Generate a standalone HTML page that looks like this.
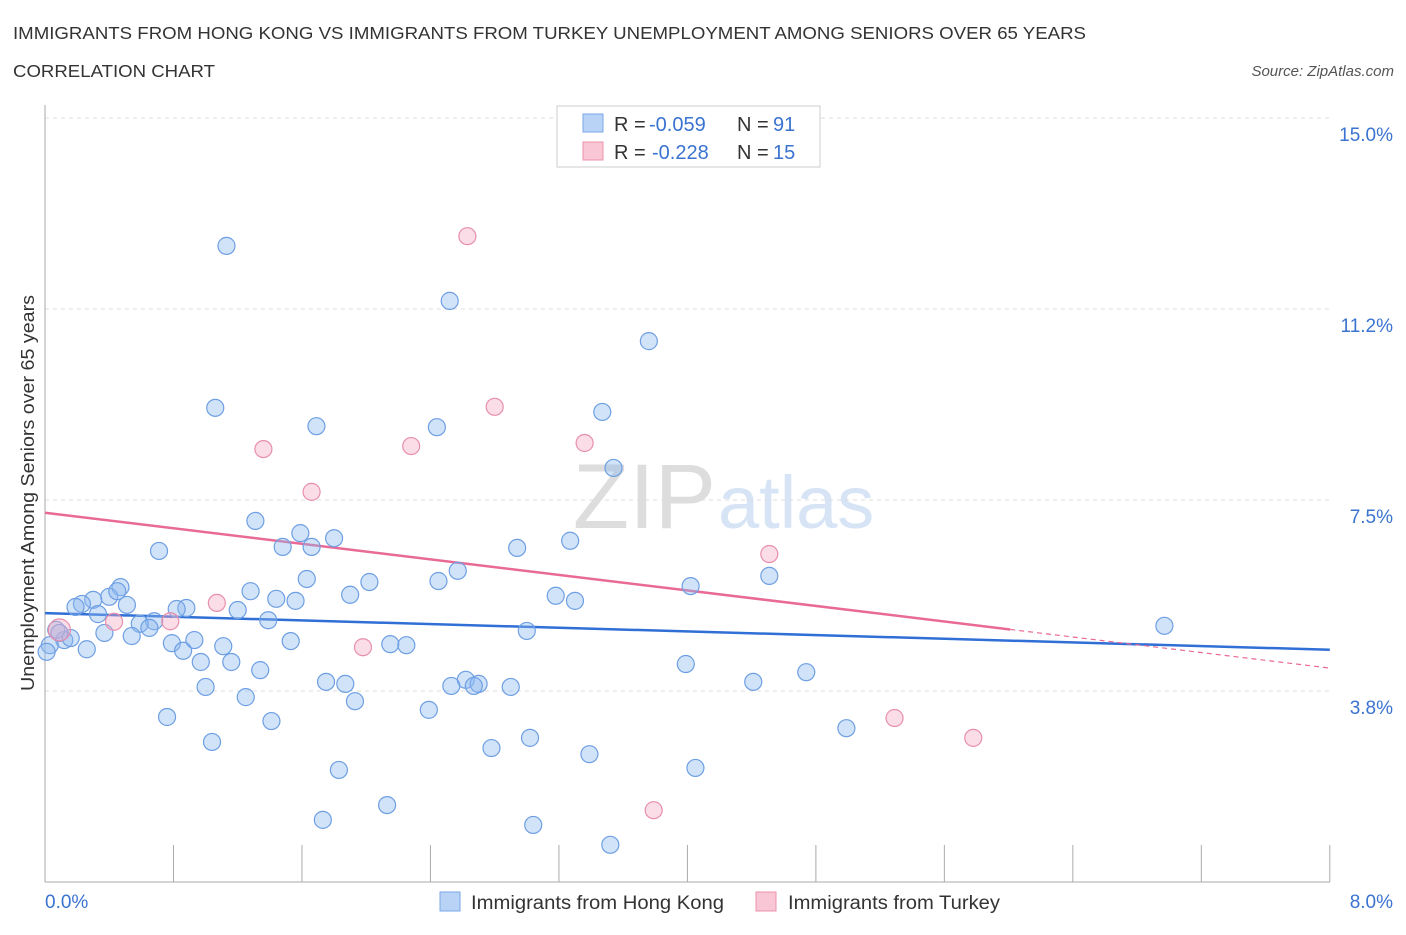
<!DOCTYPE html>
<html><head><meta charset="utf-8"><style>
body{margin:0;background:#fff;font-family:"Liberation Sans",sans-serif;}
svg text{font-family:"Liberation Sans",sans-serif;}
</style></head><body>
<svg id="chart" width="1406" height="930" xmlns="http://www.w3.org/2000/svg">
<text x="13" y="39" font-size="17.5" fill="#333" textLength="1073" lengthAdjust="spacingAndGlyphs">IMMIGRANTS FROM HONG KONG VS IMMIGRANTS FROM TURKEY UNEMPLOYMENT AMONG SENIORS OVER 65 YEARS</text>
<text x="13" y="77" font-size="17.5" fill="#333" textLength="202" lengthAdjust="spacingAndGlyphs">CORRELATION CHART</text>
<text x="1394" y="76" font-size="15" fill="#555" text-anchor="end" font-style="italic">Source: ZipAtlas.com</text>
<text x="716" y="528" font-size="92" fill="#ddd" text-anchor="end" font-family="Liberation Serif">ZIP</text>
<text x="718" y="528" font-size="74" fill="#d6e4f5">atlas</text>
<g id="grid"></g><g id="axes"></g><g id="lines"></g><g id="pts"></g>
<text transform="translate(34,493) rotate(-90)" font-size="18.5" fill="#333" text-anchor="middle" textLength="396" lengthAdjust="spacingAndGlyphs">Unemployment Among Seniors over 65 years</text>
<g>
<rect x="557" y="106" width="263" height="61" fill="#fff" stroke="#ccc"/>
<rect x="583" y="114" width="20" height="18" fill="#b8d3f5" stroke="#7aa7e6"/>
<rect x="583" y="142" width="20" height="18" fill="#f8c6d4" stroke="#eb93ad"/>
<text x="614" y="131" font-size="20" fill="#333">R =</text>
<text x="649" y="131" font-size="20" fill="#3a73d0">-0.059</text>
<text x="737" y="131" font-size="20" fill="#333">N =</text>
<text x="773" y="131" font-size="20" fill="#3a73d0">91</text>
<text x="614" y="159" font-size="20" fill="#333">R =</text>
<text x="652" y="159" font-size="20" fill="#3a73d0">-0.228</text>
<text x="737" y="159" font-size="20" fill="#333">N =</text>
<text x="773" y="159" font-size="20" fill="#3a73d0">15</text>
</g>
<g>
<rect x="440" y="892" width="20" height="19" fill="#b8d3f5" stroke="#7aa7e6"/>
<text x="471" y="909" font-size="19" fill="#333" textLength="253" lengthAdjust="spacingAndGlyphs">Immigrants from Hong Kong</text>
<rect x="756" y="892" width="20" height="19" fill="#f8c6d4" stroke="#eb93ad"/>
<text x="788" y="909" font-size="19" fill="#333" textLength="212" lengthAdjust="spacingAndGlyphs">Immigrants from Turkey</text>
</g>
</svg>
<script>
const yTicks=[3.75,7.5,11.25,15];
const yTickLabels=["3.8%","7.5%","11.2%","15.0%"];
const xTickLabels=["0.0%","8.0%"];
const hkX=[1.13,2.52,3.76,1.06,3.47,1.69,2.44,3.54,1.31,1.59,1.48,1.66,1.80,0.71,2.94,3.27,2.57,1.63,2.45,2.02,1.28,0.47,4.02,4.51,1.90,3.18,3.30,1.44,1.56,0.40,0.45,0.30,0.23,0.19,0.51,0.88,0.82,1.20,1.39,0.68,0.59,0.33,0.65,0.54,0.37,0.93,0.79,1.11,1.53,2.15,2.25,3.00,6.97,0.26,0.12,0.07,0.03,0.01,0.86,0.97,1.16,1.34,3.99,4.74,1.75,1.87,2.62,2.70,2.67,2.53,2.90,4.41,1.00,1.25,1.93,2.39,0.76,1.41,4.99,1.04,3.02,2.78,3.39,1.83,4.05,2.13,1.73,3.04,3.52,0.16,0.09];
const hkY=[12.49,11.41,10.62,9.31,9.23,8.95,8.93,8.13,7.09,6.85,6.58,6.58,6.75,6.50,6.56,6.70,6.11,5.95,5.91,5.89,5.71,5.79,5.81,6.01,5.64,5.62,5.52,5.56,5.52,5.60,5.71,5.54,5.46,5.40,5.44,5.38,5.36,5.34,5.14,5.12,5.07,5.26,4.99,4.83,4.89,4.75,4.69,4.63,4.73,4.67,4.65,4.93,5.03,4.57,4.75,4.95,4.65,4.52,4.54,4.32,4.32,4.16,4.28,4.12,3.93,3.89,3.97,3.89,3.85,3.85,3.83,3.93,3.83,3.63,3.55,3.38,3.24,3.16,3.02,2.75,2.83,2.63,2.51,2.20,2.24,1.51,1.22,1.12,0.73,4.79,4.89];
const trX=[2.63,2.80,1.36,2.28,3.36,1.66,4.51,1.07,0.43,0.78,1.98,5.29,5.78,3.79,0.09];
const trY=[12.68,9.33,8.50,8.56,8.62,7.66,6.44,5.48,5.11,5.12,4.61,3.22,2.83,1.41,4.95];
const hkTrend=[5.28,4.56];
const trTrend=[7.25,4.20];
const trSolidEnd=6.01;
const NS="http://www.w3.org/2000/svg";
const X=v=>45+v*160.6, Y=v=>882-v*50.93;
function mk(t,a,p){const e=document.createElementNS(NS,t);for(const k in a)e.setAttribute(k,a[k]);document.getElementById(p).appendChild(e);return e;}
let e=mk('line',{x1:45,y1:Y(15),x2:1330,y2:Y(15),stroke:'#ddd','stroke-dasharray':'4 4'},'grid');

yTicks.forEach((t,i)=>{let g=mk('line',{x1:45,y1:Y(t),x2:1330,y2:Y(t),stroke:'#ddd','stroke-dasharray':'4 4'},'grid');

let l=mk('text',{x:1393,y:Y(t)+23,'font-size':19,fill:'#3a73d0','text-anchor':'end'},'axes');l.textContent=yTickLabels[i];
});
let ax=mk('line',{x1:45,y1:105,x2:45,y2:882,stroke:'#aaa'},'axes');
let bx=mk('line',{x1:45,y1:882,x2:1330,y2:882,stroke:'#aaa'},'axes');
for(let i=0;i<=10;i++){let t=mk('line',{x1:X(i*0.8),y1:845,x2:X(i*0.8),y2:882,stroke:'#aaa'},'axes');}
[[0,'start',45],[8,'end',1393]].forEach((d,i)=>{let l=mk('text',{x:d[2],y:908,'font-size':19,fill:'#3a73d0','text-anchor':d[1]},'axes');l.textContent=xTickLabels[i];
});
hkX.forEach((x,i)=>{let c=mk('circle',{cx:X(x),cy:Y(hkY[i]),r:8.5,fill:'rgba(140,184,240,0.4)',stroke:'#6e9fe3','stroke-width':1.2},'pts');
});
trX.forEach((x,i)=>{let c=mk('circle',{cx:X(x),cy:Y(trY[i]),r:i==14?11:8.5,fill:'rgba(245,170,195,0.4)',stroke:'#e88fab','stroke-width':1.2},'pts');
});
let hl=mk('line',{x1:X(0),y1:Y(hkTrend[0]),x2:X(8),y2:Y(hkTrend[1]),stroke:'#2f6fd6','stroke-width':2.5},'lines');

const tY=x=>trTrend[0]+(trTrend[1]-trTrend[0])*x/8;
let tl=mk('line',{x1:X(0),y1:Y(tY(0)),x2:X(trSolidEnd),y2:Y(tY(trSolidEnd)),stroke:'#e86a95','stroke-width':2.5},'lines');

let td=mk('line',{x1:X(trSolidEnd),y1:Y(tY(trSolidEnd)),x2:X(8),y2:Y(tY(8)),stroke:'#e86a95','stroke-width':1.2,'stroke-dasharray':'5 4'},'lines');

</script>
</body></html>
